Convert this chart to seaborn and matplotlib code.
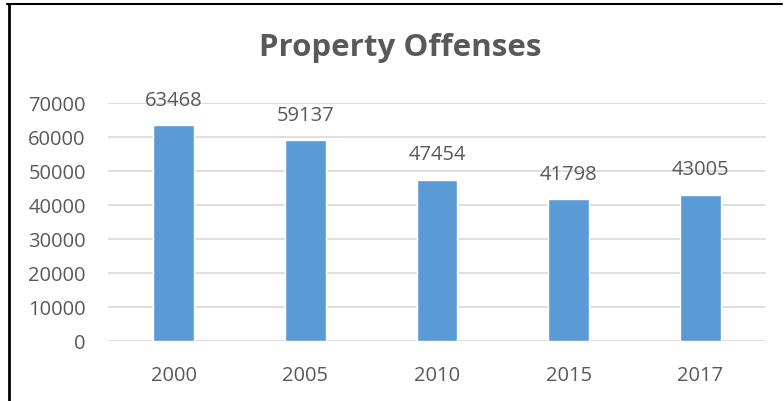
import pandas as pd
import matplotlib
matplotlib.use("Agg")
import matplotlib.pyplot as plt
import seaborn as sns

years = ["2000", "2005", "2010", "2015", "2017"]
offenses = [63468, 59137, 47454, 41798, 43005]
y_ticks = [0, 10000, 20000, 30000, 40000, 50000, 60000, 70000]

df = pd.DataFrame({"year": years, "offenses": offenses})

sns.set_style("white")
plt.rcParams["font.family"] = ["Open Sans", "DejaVu Sans"]
text_color = "#595959"

fig = plt.figure(figsize=(7.84, 4.02), dpi=100)
ax = fig.add_axes([0.1378, 0.1493, 0.8392, 0.592])

sns.barplot(data=df, x="year", y="offenses", color="#5B9BD5", saturation=1,
            width=0.31, ax=ax, zorder=3)

for i, v in enumerate(offenses):
    ax.annotate(str(v), (i, v), xytext=(0, 11), textcoords="offset points",
                ha="center", va="bottom", fontsize=14.5, color=text_color)

ax.set_ylim(0, 70000)
ax.set_yticks(y_ticks)
ax.set_xlim(-0.5, len(years) - 0.5)
ax.yaxis.grid(True, color="#D9D9D9", linewidth=1.2, zorder=0)
ax.set_axisbelow(True)
for s in ax.spines.values():
    s.set_visible(False)
ax.tick_params(axis="both", length=0, labelsize=14.5, labelcolor=text_color)
ax.tick_params(axis="y", pad=16)
ax.tick_params(axis="x", pad=17)
ax.set_xlabel("")
ax.set_ylabel("")

fig.text(0.511, 0.88, "Property Offenses", ha="center", va="center",
         fontsize=22.5, fontweight="bold", color=text_color)

# chart border (top and left edges visible in the crop)
fig.add_artist(plt.Line2D([0.009, 0.997], [0.988, 0.988], color="black", linewidth=1.5))
fig.add_artist(plt.Line2D([0.011, 0.011], [0.0, 0.988], color="black", linewidth=2))

fig.savefig("out.png", dpi=100)
